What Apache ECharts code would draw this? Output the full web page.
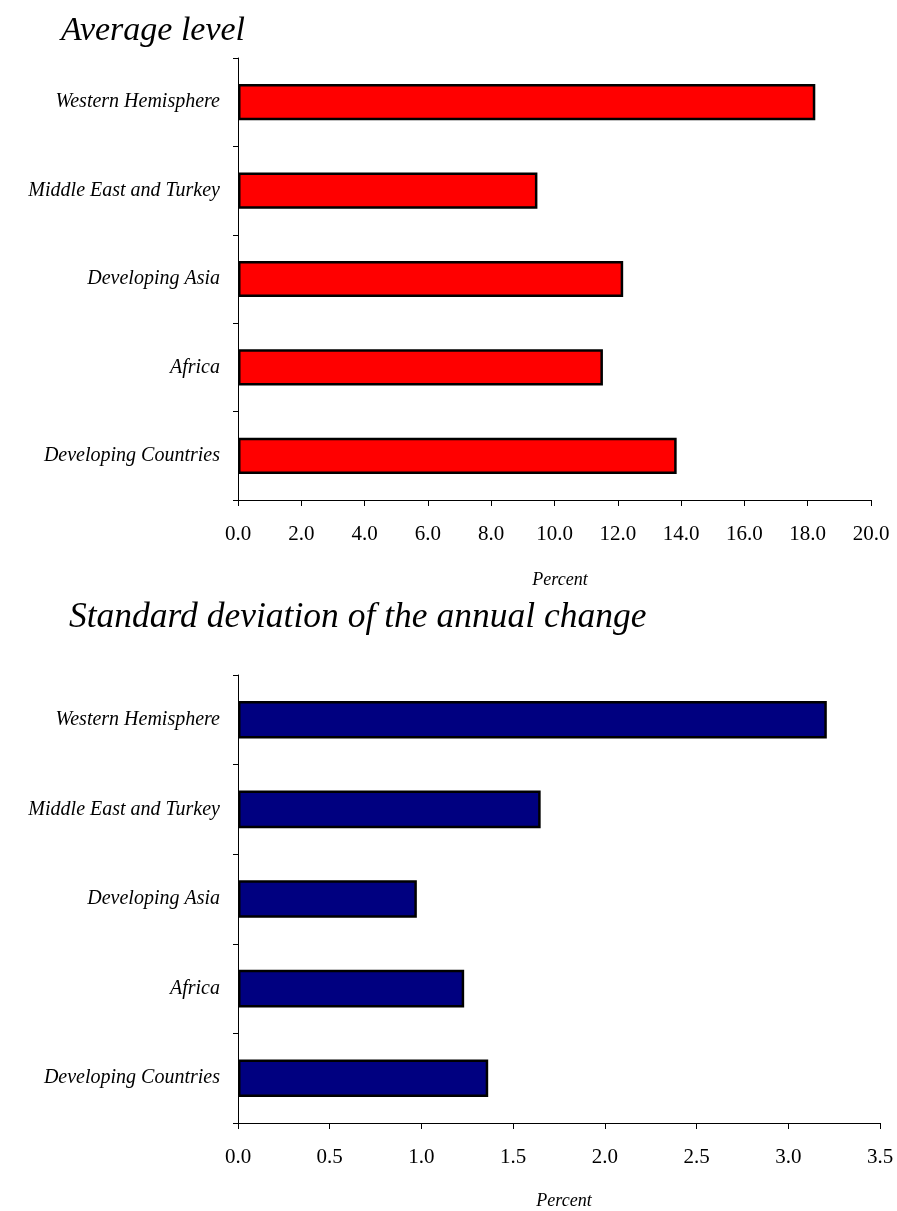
<!DOCTYPE html>
<html>
<head>
<meta charset="utf-8">
<script src="https://cdn.jsdelivr.net/npm/echarts@6/dist/echarts.min.js"></script>
<style>
html,body{margin:0;padding:0;background:#fff;}
#c{width:897px;height:1211px;}
</style>
</head>
<body>
<div id="c"></div>
<script>
const categories = ['Developing Countries', 'Africa', 'Developing Asia', 'Middle East and Turkey', 'Western Hemisphere'];
const averageLevel = [13.86, 11.53, 12.17, 9.46, 18.24];
const stdDevChange = [1.364, 1.233, 0.975, 1.65, 3.21];
const topTitle = 'Average level';
const bottomTitle = 'Standard deviation of the annual change';
const axisName = 'Percent';

const serif = '"Liberation Serif", "DejaVu Serif", serif';
const chart = echarts.init(document.getElementById('c'), null, {renderer: 'canvas'});

function catAxis(gi) {
  return {
    type: 'category', gridIndex: gi, data: categories,
    axisLine: {show: true, lineStyle: {color: '#000', width: 1}},
    axisTick: {show: true, length: 5, lineStyle: {color: '#000'}},
    axisLabel: {fontFamily: serif, fontStyle: 'italic', fontSize: 20, color: '#000', margin: 18}
  };
}
function valAxis(gi, max, interval) {
  return {
    type: 'value', gridIndex: gi, min: 0, max: max, interval: interval,
    splitLine: {show: false},
    axisLine: {show: true, lineStyle: {color: '#000', width: 1}},
    axisTick: {show: true, length: 6, lineStyle: {color: '#000'}},
    axisLabel: {fontFamily: serif, fontSize: 21, color: '#000', margin: 24,
      formatter: v => v.toFixed(1)}
  };
}

chart.setOption({
  animation: false,
  backgroundColor: '#fff',
  title: [
    {text: topTitle, left: 56, top: 9,
     textStyle: {fontFamily: serif, fontStyle: 'italic', fontWeight: 'normal', fontSize: 34, color: '#000'}},
    {text: bottomTitle, left: 64, top: 595,
     textStyle: {fontFamily: serif, fontStyle: 'italic', fontWeight: 'normal', fontSize: 35.5, color: '#000'}},
    {text: axisName, left: 555, top: 566, textAlign: 'center',
     textStyle: {fontFamily: serif, fontStyle: 'italic', fontWeight: 'normal', fontSize: 18, color: '#000'}},
    {text: axisName, left: 559, top: 1187, textAlign: 'center',
     textStyle: {fontFamily: serif, fontStyle: 'italic', fontWeight: 'normal', fontSize: 18, color: '#000'}}
  ],
  grid: [
    {left: 238, right: 26, top: 58, height: 442},
    {left: 238, right: 17, top: 675, height: 448}
  ],
  xAxis: [valAxis(0, 20, 2), valAxis(1, 3.5, 0.5)],
  yAxis: [catAxis(0), catAxis(1)],
  series: [
    {type: 'bar', xAxisIndex: 0, yAxisIndex: 0, data: averageLevel, barWidth: '41%',
     itemStyle: {color: '#FF0000', borderColor: '#000', borderWidth: 2.5}},
    {type: 'bar', xAxisIndex: 1, yAxisIndex: 1, data: stdDevChange, barWidth: '42%',
     itemStyle: {color: '#000080', borderColor: '#000', borderWidth: 2.5}}
  ]
});
</script>
</body>
</html>
